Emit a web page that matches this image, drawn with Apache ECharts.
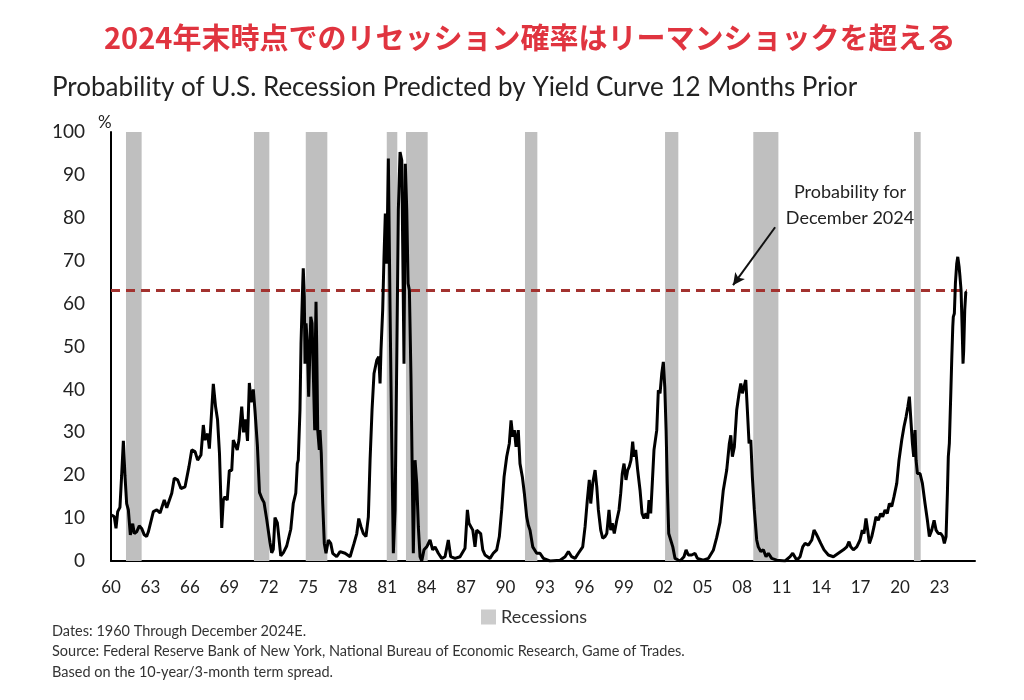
<!DOCTYPE html>
<html>
<head>
<meta charset="utf-8">
<script src="https://cdn.jsdelivr.net/npm/echarts@6/dist/echarts.min.js"></script>
<style>
html,body{margin:0;padding:0;background:#fff;}
#chart{width:1024px;height:700px;}
</style>
</head>
<body>
<div id="chart"></div>
<script>
// ---- Data (x in axis year units) ----
const probYears = [
1960.05,1960.25,1960.38,1960.51,1960.68,1960.81,1960.94,1961.06,1961.19,1961.32,1961.47,1961.65,1961.77,1961.95,
1962.15,1962.33,1962.53,1962.71,1962.84,1963.22,1963.48,1963.73,1964.05,1964.24,1964.62,1964.81,1965.07,1965.32,
1965.63,1965.93,1966.14,1966.39,1966.59,1966.84,1967.02,1967.15,1967.35,1967.48,1967.78,1967.95,1968.10,1968.25,
1968.42,1968.54,1968.67,1968.84,1969.00,1969.18,1969.30,1969.43,1969.60,1969.73,1969.94,1970.08,1970.23,1970.38,
1970.52,1970.65,1970.82,1970.95,1971.13,1971.29,1971.48,1971.64,1971.84,1972.09,1972.22,1972.34,1972.47,1972.65,
1972.91,1973.10,1973.36,1973.67,1973.86,1974.05,1974.17,1974.24,1974.37,1974.45,1974.58,1974.62,1974.70,1974.75,
1974.83,1974.93,1975.03,1975.19,1975.29,1975.38,1975.49,1975.54,1975.59,1975.64,1975.72,1975.84,1975.89,1975.99,
1976.10,1976.22,1976.35,1976.53,1976.71,1976.86,1977.16,1977.42,1977.80,1978.18,1978.48,1978.69,1978.84,1979.01,
1979.19,1979.39,1979.57,1979.70,1979.85,1980.00,1980.21,1980.36,1980.46,1980.53,1980.66,1980.76,1980.86,1980.97,
1981.09,1981.22,1981.35,1981.47,1981.60,1981.73,1981.85,1981.98,1982.11,1982.18,1982.28,1982.38,1982.49,1982.59,
1982.69,1982.81,1982.91,1982.99,1983.12,1983.25,1983.37,1983.50,1983.63,1983.80,1984.01,1984.26,1984.46,1984.64,
1984.89,1985.15,1985.40,1985.65,1985.83,1986.16,1986.54,1986.92,1987.10,1987.22,1987.35,1987.51,1987.68,1987.81,
1987.93,1988.11,1988.27,1988.44,1988.82,1989.07,1989.33,1989.53,1989.71,1989.89,1990.09,1990.29,1990.42,1990.55,
1990.67,1990.80,1990.97,1991.10,1991.28,1991.43,1991.61,1991.73,1991.86,1992.07,1992.37,1992.62,1992.88,1993.38,
1994.15,1994.53,1994.78,1995.03,1995.29,1995.54,1995.87,1996.05,1996.22,1996.37,1996.48,1996.63,1996.81,1996.94,
1997.06,1997.24,1997.39,1997.57,1997.70,1997.87,1998.00,1998.12,1998.27,1998.46,1998.63,1998.76,1998.88,1999.01,
1999.16,1999.29,1999.41,1999.54,1999.67,1999.77,1999.90,2000.05,2000.23,2000.38,2000.53,2000.68,2000.81,2000.91,
2001.04,2001.16,2001.29,2001.50,2001.62,2001.75,2001.88,2002.00,2002.11,2002.21,2002.30,2002.41,2002.56,2002.72,
2002.89,2003.27,2003.57,2003.73,2003.90,2004.16,2004.41,2004.59,2005.04,2005.42,2005.80,2006.06,2006.31,2006.56,
2006.82,2007.02,2007.13,2007.25,2007.40,2007.58,2007.76,2007.89,2008.01,2008.14,2008.27,2008.39,2008.52,2008.65,
2008.77,2008.92,2009.10,2009.22,2009.41,2009.61,2009.81,2009.99,2010.24,2010.62,2011.26,2011.64,2011.84,2012.15,
2012.40,2012.60,2012.78,2013.03,2013.29,2013.46,2013.61,2013.79,2013.97,2014.22,2014.55,2014.93,2015.31,2015.69,
2015.95,2016.12,2016.25,2016.45,2016.71,2016.96,2017.13,2017.26,2017.41,2017.54,2017.67,2017.85,2018.02,2018.17,
2018.35,2018.53,2018.68,2018.86,2019.03,2019.19,2019.37,2019.54,2019.75,2019.92,2020.13,2020.30,2020.46,2020.59,
2020.71,2020.84,2020.94,2021.04,2021.14,2021.22,2021.32,2021.52,2021.70,2021.90,2022.08,2022.23,2022.41,2022.59,
2022.74,2022.91,2023.10,2023.25,2023.37,2023.50,2023.60,2023.67,2023.75,2023.86,2023.93,2024.01,2024.05,2024.13,
2024.21,2024.31,2024.39,2024.49,2024.56,2024.64,2024.72,2024.79,2024.84,2024.92,2025.00,2025.07
];
const probValues = [
10.7,10.3,7.6,11.5,12.5,20,28.0,20,13.4,11.9,6.1,8.7,6.4,6.8,
8.2,7.6,6.1,5.7,6.8,11.5,11.9,11.2,14.2,12.4,15.8,19.3,18.9,16.9,
17.3,22.0,25.9,25.5,23.5,24.7,31.7,28.2,29.7,26.2,41.3,36,33,25,
7.7,14.2,15.0,14.2,21.1,21.1,28.2,28.6,25.9,28.2,36,30,33,28,
41.5,37,40,35,27,16,14.5,13.6,9.7,4.3,1.9,2.7,10.1,8.9,
1.2,1.9,3.5,7.4,13.4,15.8,22.7,23.5,35.2,50.7,64.7,68.2,61.6,46,
55.4,50.7,38.3,56.9,55.4,44.5,30.5,50.7,60.4,50.7,30.5,25.9,30.5,25.1,
13.4,4.1,1.8,4.9,4.1,1.8,1.0,2.2,1.8,1.0,4.1,6.4,9.9,8.0,
6.4,5.7,10.3,23.5,35.2,43.7,46.8,47.6,41.4,49.1,58.5,70.9,81.0,69.3,
93.8,58.5,27.4,1.8,11.9,46.8,81.8,95.3,93.4,74,46,92.6,81.8,64.7,
63.1,42.9,19.6,1.8,23.5,18.1,8.0,1.0,0,2.6,3.3,4.9,2.6,3.3,
1.8,0.6,1.0,4.9,1.0,0.6,1.0,3,11.9,8.8,8.4,7.2,3.3,7.2,
7.2,6.4,2.6,1.4,0.6,1.8,2.6,5.7,11.9,19.6,24.3,27.4,32.8,29.0,
30.5,26.6,30.5,22.7,19.6,15.8,10.3,8.4,7.2,3.3,1.8,1.8,0.6,0,
0.2,1.0,2.2,1.0,0.6,1.8,3.3,8.0,14.2,18.9,13.4,18.1,21.2,17.3,
11.9,7.2,5.3,5.7,6.4,11.9,7.2,8.8,6.4,9.5,11.9,15.8,20.4,22.7,
18.9,21.2,22.0,23.5,27.8,24.3,25.9,21.2,16.5,11.1,9.9,11.1,9.9,14.2,
11.1,18.1,25.9,30.5,39.8,39.1,43.7,46.4,40.6,30.5,18.1,6.4,6.1,3.3,
0.6,0,1.0,2.6,1.4,1.4,1.8,0.6,0.2,0.6,2.5,5.5,9,16.5,
21.2,27.4,29.3,24.3,26.6,35.2,39.1,41.4,39.1,40.6,42.2,35.2,27.4,28.2,
19.6,11.9,4.9,3.3,2.2,2.6,1.0,1.8,0.6,0.2,0,1.0,1.8,0.2,
1.0,3.3,4.1,3.7,4.9,7.2,6.4,5.3,4.1,2.6,1.4,1.0,1.8,2.6,
3.3,4.5,3.3,2.6,3.3,4.9,7.2,6.4,9.9,7.2,4.1,5.7,8.0,10.3,
9.5,11.1,10.3,11.9,11.1,13.4,12.7,15.0,18.1,23.5,28.2,31.3,33.6,35.9,
38.3,32.1,27.4,24.3,30.5,23.5,20.4,20.4,18.1,13.4,9.5,5.7,7.2,9.5,
7.2,6.4,6.4,5.7,4.1,5.7,15.8,24.3,27.4,39.1,46.8,54.6,56.9,57.7,
64.7,69.3,70.9,68.6,66.2,63.1,54.6,46.0,49.1,58.5,62.7,62.7
];
const recessionStarts = [1961.14,1970.87,1974.81,1980.97,1982.43,1991.48,2002.13,2008.84,2021.06];
const recessionEnds   = [1962.33,1972.04,1976.45,1981.77,1984.08,1992.42,2003.14,2010.75,2021.57];
const dec2024Probability = 63;
const xTickLabels = ['60','63','66','69','72','75','78','81','84','87','90','93','96','99','02','05','08','11','14','17','20','23'];
const yTickLabels = ['0','10','20','30','40','50','60','70','80','90','100'];
const arrowFrom = [2010.5, 77.8];
const arrowTo = [2007.3, 64.3];

const lineData = probYears.map((y, i) => [y, probValues[i]]);
const bands = recessionStarts.map((s, i) => [{xAxis: s}, {xAxis: recessionEnds[i]}]);
const lastYear = probYears[probYears.length - 1];

const chart = echarts.init(document.getElementById('chart'), null, {renderer: 'canvas'});
const latin = 'Lato, "Open Sans", sans-serif';

chart.setOption({
  animation: false,
  backgroundColor: '#ffffff',
  title: [
    {
      text: '2024年末時点でのリセッション確率はリーマンショックを超える',
      left: 104, top: 20, padding: 0,
      textStyle: {fontFamily: '"Noto Sans CJK JP", sans-serif', fontSize: 29, fontWeight: 'bold', color: '#e0343f', lineHeight: 36}
    },
    {
      text: 'Probability of U.S. Recession Predicted by Yield Curve 12 Months Prior',
      left: 52, top: 72, padding: 0,
      textStyle: {fontFamily: latin, fontSize: 26, fontWeight: 'normal', color: '#222', lineHeight: 32}
    },
    {
      text: '%',
      left: 98, top: 114, padding: 0,
      textStyle: {fontFamily: latin, fontSize: 17, fontWeight: 'normal', color: '#222', lineHeight: 18}
    },
    {
      text: 'Probability for\nDecember 2024',
      left: 850, top: 179, padding: 0, textAlign: 'center',
      textStyle: {fontFamily: latin, fontSize: 18, fontWeight: 'normal', color: '#222', lineHeight: 26}
    },
    {
      text: 'Dates: 1960 Through December 2024E.\nSource: Federal Reserve Bank of New York, National Bureau of Economic Research, Game of Trades.\nBased on the 10-year/3-month term spread.',
      left: 52, top: 621, padding: 0,
      textStyle: {fontFamily: latin, fontSize: 14.5, fontWeight: 'normal', color: '#333', lineHeight: 20.5}
    }
  ],
  legend: {
    data: [{name: 'Recessions', icon: 'rect'}],
    left: 481, top: 608, padding: 0,
    itemWidth: 15, itemHeight: 15,
    textStyle: {fontFamily: latin, fontSize: 18, color: '#333'},
    selectedMode: false
  },
  grid: {left: 111, right: 49, top: 132, bottom: 139, containLabel: false, outerBoundsMode: 'none'},
  xAxis: {
    type: 'value', min: 1960, max: 2025.7, interval: 3,
    axisLine: {show: true, lineStyle: {color: '#000', width: 2}},
    axisTick: {show: false},
    splitLine: {show: false},
    axisLabel: {
      showMaxLabel: false,
      margin: 18,
      fontFamily: latin, fontSize: 17, color: '#222',
      formatter: (v) => { const k = Math.round((v - 1960) / 3); return (Math.abs(v - (1960 + 3 * k)) < 1e-6 && xTickLabels[k]) ? xTickLabels[k] : ''; }
    }
  },
  yAxis: {
    type: 'value', min: 0, max: 100, interval: 10,
    axisLine: {show: true, lineStyle: {color: '#000', width: 2}},
    axisTick: {show: false},
    splitLine: {show: false},
    axisLabel: {
      margin: 26, fontFamily: latin, fontSize: 19, color: '#222',
      formatter: (v) => yTickLabels[Math.round(v / 10)]
    }
  },
  series: [
    {
      name: 'Recessions', type: 'scatter', data: [],
      itemStyle: {color: '#bfbfbf'},
      markArea: {silent: true, itemStyle: {color: '#bfbfbf', opacity: 1}, data: bands}
    },
    {
      name: 'Probability', type: 'line', data: lineData, showSymbol: false, z: 5,
      lineStyle: {color: '#000', width: 3}, itemStyle: {color: '#000'},
      markLine: {
        silent: true, symbol: 'none', label: {show: false},
        data: [
          [{coord: [1960, dec2024Probability], lineStyle: {color: '#a3322f', width: 3, type: [9, 6]}},
           {coord: [lastYear, dec2024Probability]}],
          [{coord: arrowFrom, symbol: 'none', lineStyle: {color: '#111', width: 2, type: 'solid'}},
           {coord: arrowTo, symbol: 'arrow', symbolSize: [9, 12]}]
        ]
      }
    }
  ]
});
</script>
</body>
</html>
